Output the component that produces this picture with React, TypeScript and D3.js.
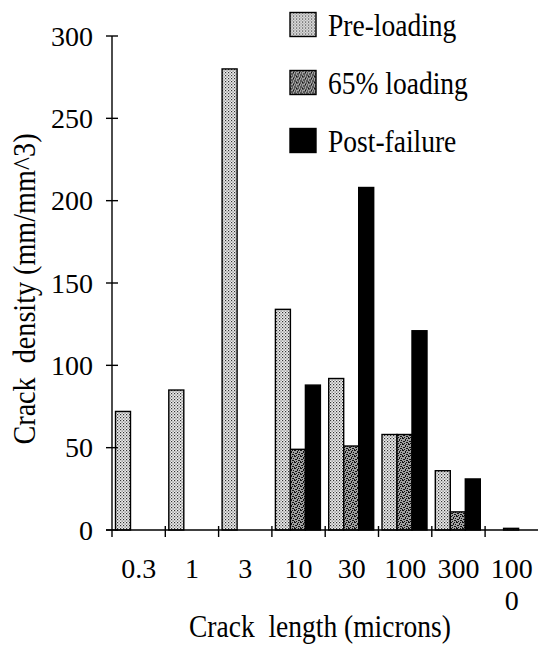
import React, { useEffect, useRef } from "react";
import * as d3 from "d3";

const categories = ["0.3", "1", "3", "10", "30", "100", "300", "1000"];
const tickLines = [["0.3"], ["1"], ["3"], ["10"], ["30"], ["100"], ["300"], ["100", "0"]];
const series = ["Pre-loading", "65% loading", "Post-failure"];
const preLoading = [72, 85, 280, 134, 92, 58, 36, 0];
const loading65 = [0, 0, 0, 49, 51, 58, 11, 1];
const postFailure = [0, 0, 0, 88, 208, 121, 31, 0];
const yTicks = [0, 50, 100, 150, 200, 250, 300];

const W = 538;
const H = 648;
const FONT = "'Liberation Serif', 'Times New Roman', serif";

const App = () => {
  const ref = useRef<SVGSVGElement | null>(null);

  useEffect(() => {
    drawChart();
  }, []);

  const drawChart = () => {
    const svg = d3.select(ref.current);
    svg.selectAll("*").remove();

    const x0 = 112;
    const x1 = 538.4;
    const y0 = 530;
    const yTop = 36;

    const xScale = d3.scaleBand<string>().domain(categories).range([x0, x1]).padding(0);
    const inner = d3.scaleBand<string>().domain(series).range([3.5, 48.5]).padding(0);
    const yScale = d3.scaleLinear().domain([0, 300]).range([y0, yTop]);

    // fill patterns
    const defs = svg.append("defs");
    const p1 = defs.append("pattern").attr("id", "pre").attr("patternUnits", "userSpaceOnUse")
      .attr("width", 3).attr("height", 3);
    p1.append("rect").attr("width", 3).attr("height", 3).attr("fill", "#eee");
    p1.append("rect").attr("x", 0).attr("y", 0).attr("width", 1.2).attr("height", 1.2).attr("fill", "#333");
    p1.append("rect").attr("x", 1.5).attr("y", 1.5).attr("width", 1.2).attr("height", 1.2).attr("fill", "#666");

    const p2 = defs.append("pattern").attr("id", "mid").attr("patternUnits", "userSpaceOnUse")
      .attr("width", 6).attr("height", 6);
    p2.append("rect").attr("width", 6).attr("height", 6).attr("fill", "#a0a0a0");
    [[0, 0, 2, 1], [3, 1, 1, 2], [1, 3, 2, 1], [4, 4, 2, 1], [0, 5, 1, 1], [5, 2, 1, 1], [2, 5, 1, 1], [4, 0, 1, 1]]
      .forEach(([a, b, c, d]) => {
        p2.append("rect").attr("x", a).attr("y", b).attr("width", c).attr("height", d).attr("fill", "#111");
      });

    const fills: Record<string, string> = {
      "Pre-loading": "url(#pre)",
      "65% loading": "url(#mid)",
      "Post-failure": "#000",
    };
    const values: Record<string, number[]> = {
      "Pre-loading": preLoading,
      "65% loading": loading65,
      "Post-failure": postFailure,
    };

    // bars
    const rows = categories.flatMap((c, i) =>
      series.map((s) => ({ c, s, v: values[s][i] }))
    ).filter((d) => d.v > 0);

    svg.append("g").selectAll("rect")
      .data(rows)
      .enter()
      .append("rect")
      .attr("x", (d) => (xScale(d.c) as number) + (inner(d.s) as number))
      .attr("y", (d) => yScale(d.v))
      .attr("width", inner.bandwidth())
      .attr("height", (d) => y0 - yScale(d.v))
      .attr("fill", (d) => fills[d.s])
      .attr("stroke", "#000")
      .attr("stroke-width", 1.4);

    // y axis
    const ya = svg.append("g").attr("stroke", "#000").attr("stroke-width", 1.4);
    ya.append("line").attr("x1", x0).attr("x2", x0).attr("y1", yTop).attr("y2", y0 + 7);
    ya.selectAll("line.tick").data(yTicks).enter().append("line")
      .attr("x1", x0 - 6).attr("x2", x0 + 6)
      .attr("y1", (d) => yScale(d)).attr("y2", (d) => yScale(d));

    svg.append("g").selectAll("text")
      .data(yTicks)
      .enter()
      .append("text")
      .attr("x", 93)
      .attr("y", (d) => yScale(d) + 9.5)
      .attr("text-anchor", "end")
      .attr("font-family", FONT)
      .attr("font-size", 28)
      .text((d) => d);

    // x axis
    const xa = svg.append("g").attr("stroke", "#000").attr("stroke-width", 1.4);
    xa.append("line").attr("x1", x0 - 6).attr("x2", x1).attr("y1", y0).attr("y2", y0);
    xa.selectAll("line.tick").data(categories.slice(1)).enter().append("line")
      .attr("x1", (d) => xScale(d) as number).attr("x2", (d) => xScale(d) as number)
      .attr("y1", y0 - 4).attr("y2", y0 + 7);

    const xl = svg.append("g").selectAll("g")
      .data(categories)
      .enter()
      .append("g")
      .attr("transform", (d) => `translate(${(xScale(d) as number) + xScale.bandwidth() / 2},578)`);
    xl.each(function (d, i) {
      tickLines[i].forEach((t, j) => {
        d3.select(this).append("text")
          .attr("text-anchor", "middle")
          .attr("y", j * 32)
          .attr("font-family", FONT)
          .attr("font-size", 28)
          .text(t);
      });
    });

    // axis titles
    svg.append("g")
      .attr("transform", "translate(320,637) scale(0.86,1)")
      .append("text")
      .attr("text-anchor", "middle")
      .attr("font-family", FONT)
      .attr("font-size", 32)
      .style("white-space", "pre")
      .text("Crack  length (microns)");

    svg.append("g")
      .attr("transform", "translate(35,289) rotate(-90) scale(0.88,1)")
      .append("text")
      .attr("text-anchor", "middle")
      .attr("font-family", FONT)
      .attr("font-size", 32)
      .style("white-space", "pre")
      .text("Crack  density (mm/mm^3)");

    // legend
    const lg = svg.append("g").selectAll("g")
      .data(series)
      .enter()
      .append("g")
      .attr("transform", (d, i) => `translate(290,${12.5 + i * 58})`);
    lg.append("rect")
      .attr("width", 26).attr("height", 24)
      .attr("fill", (d) => fills[d])
      .attr("stroke", "#000").attr("stroke-width", 1.4);
    lg.append("g")
      .attr("transform", "translate(38,23) scale(0.86,1)")
      .append("text")
      .attr("font-family", FONT)
      .attr("font-size", 32)
      .text((d) => d);
  };

  return (
    <div style={{ position: "absolute", left: 0, top: 0 }}>
      <svg ref={ref} width={W} height={H} style={{ display: "block", background: "#fff" }} />
    </div>
  );
};

export default App;
